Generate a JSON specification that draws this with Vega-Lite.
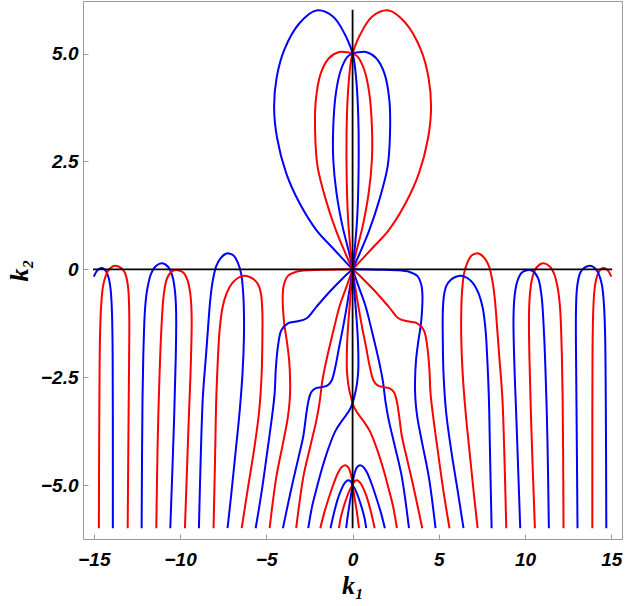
{
"$schema": "https://vega.github.io/schema/vega-lite/v6.json",
"width": 539, "height": 538,
"autosize": {"type": "none"},
"padding": {"left": 83, "top": 1, "right": 3, "bottom": 67},
"config": {"view": {"stroke": "#999999", "strokeWidth": 1}},
"data": {"values": [
{"s":"U1","c":"b","i":0,"x":0,"y":0},{"s":"U1","c":"b","i":2,"x":-1.14,"y":0.49},{"s":"U1","c":"b","i":3,"x":-2.1,"y":0.91},{"s":"U1","c":"b","i":4,"x":-3.07,"y":1.53},{"s":"U1","c":"b","i":5,"x":-3.85,"y":2.23},{"s":"U1","c":"b","i":6,"x":-4.38,"y":3.05},{"s":"U1","c":"b","i":7,"x":-4.55,"y":3.75},{"s":"U1","c":"b","i":8,"x":-4.4,"y":4.45},{"s":"U1","c":"b","i":9,"x":-3.95,"y":5.1},{"s":"U1","c":"b","i":10,"x":-3.07,"y":5.71},{"s":"U1","c":"b","i":11,"x":-2.1,"y":6.0},{"s":"U1","c":"b","i":12,"x":-1.14,"y":5.86},{"s":"U1","c":"b","i":13,"x":-0.45,"y":5.45},{"s":"U1","c":"b","i":14,"x":-0.12,"y":5.15},{"s":"U1","c":"b","i":15,"x":0,"y":5},
{"s":"U1m","c":"r","i":0,"x":0,"y":0},{"s":"U1m","c":"r","i":2,"x":1.14,"y":0.49},{"s":"U1m","c":"r","i":3,"x":2.1,"y":0.91},{"s":"U1m","c":"r","i":4,"x":3.07,"y":1.53},{"s":"U1m","c":"r","i":5,"x":3.85,"y":2.23},{"s":"U1m","c":"r","i":6,"x":4.38,"y":3.05},{"s":"U1m","c":"r","i":7,"x":4.55,"y":3.75},{"s":"U1m","c":"r","i":8,"x":4.4,"y":4.45},{"s":"U1m","c":"r","i":9,"x":3.95,"y":5.1},{"s":"U1m","c":"r","i":10,"x":3.07,"y":5.71},{"s":"U1m","c":"r","i":11,"x":2.1,"y":6.0},{"s":"U1m","c":"r","i":12,"x":1.14,"y":5.86},{"s":"U1m","c":"r","i":13,"x":0.45,"y":5.45},{"s":"U1m","c":"r","i":14,"x":0.12,"y":5.15},{"s":"U1m","c":"r","i":15,"x":0,"y":5},
{"s":"U2","c":"r","i":0,"x":0,"y":0},{"s":"U2","c":"r","i":1,"x":-0.39,"y":0.35},{"s":"U2","c":"r","i":2,"x":-0.97,"y":0.91},{"s":"U2","c":"r","i":3,"x":-1.55,"y":1.61},{"s":"U2","c":"r","i":4,"x":-2.03,"y":2.38},{"s":"U2","c":"r","i":5,"x":-2.17,"y":3.15},{"s":"U2","c":"r","i":6,"x":-2.13,"y":3.93},{"s":"U2","c":"r","i":7,"x":-1.84,"y":4.55},{"s":"U2","c":"r","i":8,"x":-1.36,"y":4.9},{"s":"U2","c":"r","i":9,"x":-0.78,"y":5.04},{"s":"U2","c":"r","i":10,"x":-0.29,"y":5.03},{"s":"U2","c":"r","i":11,"x":0,"y":5},
{"s":"U2m","c":"b","i":0,"x":0,"y":0},{"s":"U2m","c":"b","i":1,"x":0.39,"y":0.35},{"s":"U2m","c":"b","i":2,"x":0.97,"y":0.91},{"s":"U2m","c":"b","i":3,"x":1.55,"y":1.61},{"s":"U2m","c":"b","i":4,"x":2.03,"y":2.38},{"s":"U2m","c":"b","i":5,"x":2.17,"y":3.15},{"s":"U2m","c":"b","i":6,"x":2.13,"y":3.93},{"s":"U2m","c":"b","i":7,"x":1.84,"y":4.55},{"s":"U2m","c":"b","i":8,"x":1.36,"y":4.9},{"s":"U2m","c":"b","i":9,"x":0.78,"y":5.04},{"s":"U2m","c":"b","i":10,"x":0.29,"y":5.03},{"s":"U2m","c":"b","i":11,"x":0,"y":5},
{"s":"U3","c":"b","i":0,"x":0,"y":0},{"s":"U3","c":"b","i":1,"x":-0.19,"y":0.37},{"s":"U3","c":"b","i":2,"x":-0.58,"y":0.99},{"s":"U3","c":"b","i":3,"x":-0.93,"y":1.76},{"s":"U3","c":"b","i":4,"x":-1.12,"y":2.54},{"s":"U3","c":"b","i":5,"x":-1.12,"y":3.31},{"s":"U3","c":"b","i":6,"x":-0.97,"y":4.08},{"s":"U3","c":"b","i":7,"x":-0.68,"y":4.62},{"s":"U3","c":"b","i":8,"x":-0.29,"y":4.93},{"s":"U3","c":"b","i":9,"x":0,"y":5},
{"s":"U3m","c":"r","i":0,"x":0,"y":0},{"s":"U3m","c":"r","i":1,"x":0.19,"y":0.37},{"s":"U3m","c":"r","i":2,"x":0.58,"y":0.99},{"s":"U3m","c":"r","i":3,"x":0.93,"y":1.76},{"s":"U3m","c":"r","i":4,"x":1.12,"y":2.54},{"s":"U3m","c":"r","i":5,"x":1.12,"y":3.31},{"s":"U3m","c":"r","i":6,"x":0.97,"y":4.08},{"s":"U3m","c":"r","i":7,"x":0.68,"y":4.62},{"s":"U3m","c":"r","i":8,"x":0.29,"y":4.93},{"s":"U3m","c":"r","i":9,"x":0,"y":5},
{"s":"U4","c":"r","i":0,"x":0,"y":0},{"s":"U4","c":"r","i":1,"x":-0.1,"y":0.37},{"s":"U4","c":"r","i":2,"x":-0.27,"y":1.22},{"s":"U4","c":"r","i":3,"x":-0.35,"y":2.38},{"s":"U4","c":"r","i":4,"x":-0.33,"y":3.54},{"s":"U4","c":"r","i":5,"x":-0.23,"y":4.31},{"s":"U4","c":"r","i":6,"x":-0.08,"y":4.86},{"s":"U4","c":"r","i":7,"x":0,"y":5},
{"s":"U4m","c":"b","i":0,"x":0,"y":0},{"s":"U4m","c":"b","i":1,"x":0.1,"y":0.37},{"s":"U4m","c":"b","i":2,"x":0.27,"y":1.22},{"s":"U4m","c":"b","i":3,"x":0.35,"y":2.38},{"s":"U4m","c":"b","i":4,"x":0.33,"y":3.54},{"s":"U4m","c":"b","i":5,"x":0.23,"y":4.31},{"s":"U4m","c":"b","i":6,"x":0.08,"y":4.86},{"s":"U4m","c":"b","i":7,"x":0,"y":5},
{"s":"L1","c":"r","i":0,"x":0,"y":0},{"s":"L1","c":"r","i":1,"x":-1.5,"y":-0.01},{"s":"L1","c":"r","i":2,"x":-2.5,"y":-0.02},{"s":"L1","c":"r","i":3,"x":-3.3,"y":-0.06},{"s":"L1","c":"r","i":4,"x":-3.75,"y":-0.15},{"s":"L1","c":"r","i":5,"x":-3.98,"y":-0.35},{"s":"L1","c":"r","i":6,"x":-4.05,"y":-0.6},{"s":"L1","c":"r","i":7,"x":-4.02,"y":-1.0},{"s":"L1","c":"r","i":8,"x":-3.95,"y":-1.3},{"s":"L1","c":"r","i":9,"x":-3.8,"y":-1.7},{"s":"L1","c":"r","i":10,"x":-3.68,"y":-2.1},{"s":"L1","c":"r","i":11,"x":-3.62,"y":-2.6},{"s":"L1","c":"r","i":12,"x":-3.64,"y":-3.0},{"s":"L1","c":"r","i":13,"x":-3.75,"y":-3.42},{"s":"L1","c":"r","i":14,"x":-4.04,"y":-4.04},{"s":"L1","c":"r","i":15,"x":-4.42,"y":-4.81},{"s":"L1","c":"r","i":16,"x":-4.81,"y":-6.0},
{"s":"L1m","c":"b","i":0,"x":0,"y":0},{"s":"L1m","c":"b","i":1,"x":1.5,"y":-0.01},{"s":"L1m","c":"b","i":2,"x":2.5,"y":-0.02},{"s":"L1m","c":"b","i":3,"x":3.3,"y":-0.06},{"s":"L1m","c":"b","i":4,"x":3.75,"y":-0.15},{"s":"L1m","c":"b","i":5,"x":3.98,"y":-0.35},{"s":"L1m","c":"b","i":6,"x":4.05,"y":-0.6},{"s":"L1m","c":"b","i":7,"x":4.02,"y":-1.0},{"s":"L1m","c":"b","i":8,"x":3.95,"y":-1.3},{"s":"L1m","c":"b","i":9,"x":3.8,"y":-1.7},{"s":"L1m","c":"b","i":10,"x":3.68,"y":-2.1},{"s":"L1m","c":"b","i":11,"x":3.62,"y":-2.6},{"s":"L1m","c":"b","i":12,"x":3.64,"y":-3.0},{"s":"L1m","c":"b","i":13,"x":3.75,"y":-3.42},{"s":"L1m","c":"b","i":14,"x":4.04,"y":-4.04},{"s":"L1m","c":"b","i":15,"x":4.42,"y":-4.81},{"s":"L1m","c":"b","i":16,"x":4.81,"y":-6.0},
{"s":"L2","c":"b","i":0,"x":0,"y":0},{"s":"L2","c":"b","i":1,"x":-0.58,"y":-0.21},{"s":"L2","c":"b","i":2,"x":-1.33,"y":-0.52},{"s":"L2","c":"b","i":3,"x":-2.1,"y":-0.87},{"s":"L2","c":"b","i":4,"x":-2.68,"y":-1.14},{"s":"L2","c":"b","i":5,"x":-3.26,"y":-1.21},{"s":"L2","c":"b","i":6,"x":-3.75,"y":-1.25},{"s":"L2","c":"b","i":7,"x":-4.13,"y":-1.41},{"s":"L2","c":"b","i":8,"x":-4.33,"y":-1.79},{"s":"L2","c":"b","i":9,"x":-4.45,"y":-2.3},{"s":"L2","c":"b","i":10,"x":-4.52,"y":-2.88},{"s":"L2","c":"b","i":11,"x":-4.7,"y":-3.5},{"s":"L2","c":"b","i":12,"x":-4.91,"y":-4.12},{"s":"L2","c":"b","i":13,"x":-5.29,"y":-5.2},{"s":"L2","c":"b","i":14,"x":-5.62,"y":-6.0},
{"s":"L2m","c":"r","i":0,"x":0,"y":0},{"s":"L2m","c":"r","i":1,"x":0.58,"y":-0.21},{"s":"L2m","c":"r","i":2,"x":1.33,"y":-0.52},{"s":"L2m","c":"r","i":3,"x":2.1,"y":-0.87},{"s":"L2m","c":"r","i":4,"x":2.68,"y":-1.14},{"s":"L2m","c":"r","i":5,"x":3.26,"y":-1.21},{"s":"L2m","c":"r","i":6,"x":3.75,"y":-1.25},{"s":"L2m","c":"r","i":7,"x":4.13,"y":-1.41},{"s":"L2m","c":"r","i":8,"x":4.33,"y":-1.79},{"s":"L2m","c":"r","i":9,"x":4.45,"y":-2.3},{"s":"L2m","c":"r","i":10,"x":4.52,"y":-2.88},{"s":"L2m","c":"r","i":11,"x":4.7,"y":-3.5},{"s":"L2m","c":"r","i":12,"x":4.91,"y":-4.12},{"s":"L2m","c":"r","i":13,"x":5.29,"y":-5.2},{"s":"L2m","c":"r","i":14,"x":5.62,"y":-6.0},
{"s":"L3","c":"r","i":0,"x":0,"y":0},{"s":"L3","c":"r","i":1,"x":-0.35,"y":-0.4},{"s":"L3","c":"r","i":2,"x":-0.75,"y":-0.85},{"s":"L3","c":"r","i":3,"x":-1.1,"y":-1.4},{"s":"L3","c":"r","i":4,"x":-1.4,"y":-1.9},{"s":"L3","c":"r","i":5,"x":-1.62,"y":-2.3},{"s":"L3","c":"r","i":6,"x":-1.76,"y":-2.6},{"s":"L3","c":"r","i":7,"x":-1.84,"y":-2.85},{"s":"L3","c":"r","i":8,"x":-1.92,"y":-3.1},{"s":"L3","c":"r","i":9,"x":-2.1,"y":-3.5},{"s":"L3","c":"r","i":10,"x":-2.45,"y":-4.1},{"s":"L3","c":"r","i":11,"x":-2.85,"y":-4.8},{"s":"L3","c":"r","i":12,"x":-3.27,"y":-6.0},
{"s":"L3m","c":"b","i":0,"x":0,"y":0},{"s":"L3m","c":"b","i":1,"x":0.35,"y":-0.4},{"s":"L3m","c":"b","i":2,"x":0.75,"y":-0.85},{"s":"L3m","c":"b","i":3,"x":1.1,"y":-1.4},{"s":"L3m","c":"b","i":4,"x":1.4,"y":-1.9},{"s":"L3m","c":"b","i":5,"x":1.62,"y":-2.3},{"s":"L3m","c":"b","i":6,"x":1.76,"y":-2.6},{"s":"L3m","c":"b","i":7,"x":1.84,"y":-2.85},{"s":"L3m","c":"b","i":8,"x":1.92,"y":-3.1},{"s":"L3m","c":"b","i":9,"x":2.1,"y":-3.5},{"s":"L3m","c":"b","i":10,"x":2.45,"y":-4.1},{"s":"L3m","c":"b","i":11,"x":2.85,"y":-4.8},{"s":"L3m","c":"b","i":12,"x":3.27,"y":-6.0},
{"s":"L4","c":"b","i":0,"x":0,"y":0},{"s":"L4","c":"b","i":1,"x":-0.15,"y":-0.4},{"s":"L4","c":"b","i":2,"x":-0.37,"y":-0.94},{"s":"L4","c":"b","i":3,"x":-0.58,"y":-1.4},{"s":"L4","c":"b","i":4,"x":-0.78,"y":-1.8},{"s":"L4","c":"b","i":5,"x":-1.02,"y":-2.3},{"s":"L4","c":"b","i":6,"x":-1.22,"y":-2.58},{"s":"L4","c":"b","i":7,"x":-1.45,"y":-2.69},{"s":"L4","c":"b","i":8,"x":-1.8,"y":-2.73},{"s":"L4","c":"b","i":9,"x":-2.15,"y":-2.76},{"s":"L4","c":"b","i":10,"x":-2.4,"y":-2.85},{"s":"L4","c":"b","i":11,"x":-2.56,"y":-3.05},{"s":"L4","c":"b","i":12,"x":-2.7,"y":-3.4},{"s":"L4","c":"b","i":13,"x":-2.85,"y":-3.85},{"s":"L4","c":"b","i":14,"x":-3.1,"y":-4.3},{"s":"L4","c":"b","i":15,"x":-3.45,"y":-4.9},{"s":"L4","c":"b","i":16,"x":-3.75,"y":-5.45},{"s":"L4","c":"b","i":17,"x":-4.04,"y":-6.0},
{"s":"L4m","c":"r","i":0,"x":0,"y":0},{"s":"L4m","c":"r","i":1,"x":0.15,"y":-0.4},{"s":"L4m","c":"r","i":2,"x":0.37,"y":-0.94},{"s":"L4m","c":"r","i":3,"x":0.58,"y":-1.4},{"s":"L4m","c":"r","i":4,"x":0.78,"y":-1.8},{"s":"L4m","c":"r","i":5,"x":1.02,"y":-2.3},{"s":"L4m","c":"r","i":6,"x":1.22,"y":-2.58},{"s":"L4m","c":"r","i":7,"x":1.45,"y":-2.69},{"s":"L4m","c":"r","i":8,"x":1.8,"y":-2.73},{"s":"L4m","c":"r","i":9,"x":2.15,"y":-2.76},{"s":"L4m","c":"r","i":10,"x":2.4,"y":-2.85},{"s":"L4m","c":"r","i":11,"x":2.56,"y":-3.05},{"s":"L4m","c":"r","i":12,"x":2.7,"y":-3.4},{"s":"L4m","c":"r","i":13,"x":2.85,"y":-3.85},{"s":"L4m","c":"r","i":14,"x":3.1,"y":-4.3},{"s":"L4m","c":"r","i":15,"x":3.45,"y":-4.9},{"s":"L4m","c":"r","i":16,"x":3.75,"y":-5.45},{"s":"L4m","c":"r","i":17,"x":4.04,"y":-6.0},
{"s":"L5","c":"r","i":0,"x":0,"y":0},{"s":"L5","c":"r","i":1,"x":-0.08,"y":-0.4},{"s":"L5","c":"r","i":2,"x":-0.19,"y":-0.94},{"s":"L5","c":"r","i":3,"x":-0.29,"y":-1.5},{"s":"L5","c":"r","i":4,"x":-0.33,"y":-1.9},{"s":"L5","c":"r","i":5,"x":-0.33,"y":-2.34},{"s":"L5","c":"r","i":6,"x":-0.27,"y":-2.6},{"s":"L5","c":"r","i":7,"x":-0.19,"y":-2.8},{"s":"L5","c":"r","i":8,"x":-0.08,"y":-2.98},{"s":"L5","c":"r","i":9,"x":0,"y":-3.1},{"s":"L5","c":"r","i":10,"x":0.2,"y":-3.28},{"s":"L5","c":"r","i":11,"x":0.6,"y":-3.5},{"s":"L5","c":"r","i":12,"x":1.0,"y":-3.75},{"s":"L5","c":"r","i":13,"x":1.4,"y":-4.15},{"s":"L5","c":"r","i":14,"x":1.76,"y":-4.6},{"s":"L5","c":"r","i":15,"x":2.1,"y":-5.1},{"s":"L5","c":"r","i":16,"x":2.35,"y":-5.5},{"s":"L5","c":"r","i":17,"x":2.57,"y":-6.0},
{"s":"L5m","c":"b","i":0,"x":0,"y":0},{"s":"L5m","c":"b","i":1,"x":0.08,"y":-0.4},{"s":"L5m","c":"b","i":2,"x":0.19,"y":-0.94},{"s":"L5m","c":"b","i":3,"x":0.29,"y":-1.5},{"s":"L5m","c":"b","i":4,"x":0.33,"y":-1.9},{"s":"L5m","c":"b","i":5,"x":0.33,"y":-2.34},{"s":"L5m","c":"b","i":6,"x":0.27,"y":-2.6},{"s":"L5m","c":"b","i":7,"x":0.19,"y":-2.8},{"s":"L5m","c":"b","i":8,"x":0.08,"y":-2.98},{"s":"L5m","c":"b","i":9,"x":0,"y":-3.1},{"s":"L5m","c":"b","i":10,"x":-0.2,"y":-3.28},{"s":"L5m","c":"b","i":11,"x":-0.6,"y":-3.5},{"s":"L5m","c":"b","i":12,"x":-1.0,"y":-3.75},{"s":"L5m","c":"b","i":13,"x":-1.4,"y":-4.15},{"s":"L5m","c":"b","i":14,"x":-1.76,"y":-4.6},{"s":"L5m","c":"b","i":15,"x":-2.1,"y":-5.1},{"s":"L5m","c":"b","i":16,"x":-2.35,"y":-5.5},{"s":"L5m","c":"b","i":17,"x":-2.57,"y":-6.0},
{"s":"B1","c":"r","i":0,"x":0,"y":-5},{"s":"B1","c":"r","i":1,"x":-0.1,"y":-4.75},{"s":"B1","c":"r","i":2,"x":-0.25,"y":-4.59},{"s":"B1","c":"r","i":3,"x":-0.42,"y":-4.54},{"s":"B1","c":"r","i":4,"x":-0.62,"y":-4.58},{"s":"B1","c":"r","i":5,"x":-0.85,"y":-4.72},{"s":"B1","c":"r","i":6,"x":-1.1,"y":-4.97},{"s":"B1","c":"r","i":7,"x":-1.38,"y":-5.3},{"s":"B1","c":"r","i":8,"x":-1.65,"y":-5.65},{"s":"B1","c":"r","i":9,"x":-1.87,"y":-6.0},
{"s":"B1m","c":"b","i":0,"x":0,"y":-5},{"s":"B1m","c":"b","i":1,"x":0.1,"y":-4.75},{"s":"B1m","c":"b","i":2,"x":0.25,"y":-4.59},{"s":"B1m","c":"b","i":3,"x":0.42,"y":-4.54},{"s":"B1m","c":"b","i":4,"x":0.62,"y":-4.58},{"s":"B1m","c":"b","i":5,"x":0.85,"y":-4.72},{"s":"B1m","c":"b","i":6,"x":1.1,"y":-4.97},{"s":"B1m","c":"b","i":7,"x":1.38,"y":-5.3},{"s":"B1m","c":"b","i":8,"x":1.65,"y":-5.65},{"s":"B1m","c":"b","i":9,"x":1.87,"y":-6.0},
{"s":"B2","c":"b","i":0,"x":0,"y":-5},{"s":"B2","c":"b","i":1,"x":-0.12,"y":-4.91},{"s":"B2","c":"b","i":2,"x":-0.27,"y":-4.89},{"s":"B2","c":"b","i":3,"x":-0.45,"y":-4.95},{"s":"B2","c":"b","i":4,"x":-0.65,"y":-5.1},{"s":"B2","c":"b","i":5,"x":-0.88,"y":-5.35},{"s":"B2","c":"b","i":6,"x":-1.08,"y":-5.65},{"s":"B2","c":"b","i":7,"x":-1.28,"y":-6.0},
{"s":"B2m","c":"r","i":0,"x":0,"y":-5},{"s":"B2m","c":"r","i":1,"x":0.12,"y":-4.91},{"s":"B2m","c":"r","i":2,"x":0.27,"y":-4.89},{"s":"B2m","c":"r","i":3,"x":0.45,"y":-4.95},{"s":"B2m","c":"r","i":4,"x":0.65,"y":-5.1},{"s":"B2m","c":"r","i":5,"x":0.88,"y":-5.35},{"s":"B2m","c":"r","i":6,"x":1.08,"y":-5.65},{"s":"B2m","c":"r","i":7,"x":1.28,"y":-6.0},
{"s":"B3","c":"r","i":0,"x":0,"y":-5},{"s":"B3","c":"r","i":1,"x":-0.15,"y":-5.1},{"s":"B3","c":"r","i":2,"x":-0.35,"y":-5.3},{"s":"B3","c":"r","i":3,"x":-0.55,"y":-5.55},{"s":"B3","c":"r","i":4,"x":-0.7,"y":-5.78},{"s":"B3","c":"r","i":5,"x":-0.79,"y":-6.0},
{"s":"B3m","c":"b","i":0,"x":0,"y":-5},{"s":"B3m","c":"b","i":1,"x":0.15,"y":-5.1},{"s":"B3m","c":"b","i":2,"x":0.35,"y":-5.3},{"s":"B3m","c":"b","i":3,"x":0.55,"y":-5.55},{"s":"B3m","c":"b","i":4,"x":0.7,"y":-5.78},{"s":"B3m","c":"b","i":5,"x":0.79,"y":-6.0},
{"s":"B4","c":"b","i":0,"x":0,"y":-5},{"s":"B4","c":"b","i":1,"x":-0.1,"y":-5.25},{"s":"B4","c":"b","i":2,"x":-0.22,"y":-5.55},{"s":"B4","c":"b","i":3,"x":-0.31,"y":-5.8},{"s":"B4","c":"b","i":4,"x":-0.37,"y":-6.0},
{"s":"B4m","c":"r","i":0,"x":0,"y":-5},{"s":"B4m","c":"r","i":1,"x":0.1,"y":-5.25},{"s":"B4m","c":"r","i":2,"x":0.22,"y":-5.55},{"s":"B4m","c":"r","i":3,"x":0.31,"y":-5.8},{"s":"B4m","c":"r","i":4,"x":0.37,"y":-6.0},
{"s":"A1","c":"b","i":0,"x":-15,"y":-0.17},{"s":"A1","c":"b","i":1,"x":-14.85,"y":-0.05},{"s":"A1","c":"b","i":2,"x":-14.7,"y":0.01},{"s":"A1","c":"b","i":3,"x":-14.51,"y":0.03},{"s":"A1","c":"b","i":4,"x":-14.32,"y":-0.03},{"s":"A1","c":"b","i":5,"x":-14.14,"y":-0.2},{"s":"A1","c":"b","i":6,"x":-14.02,"y":-0.5},{"s":"A1","c":"b","i":7,"x":-13.95,"y":-1.0},{"s":"A1","c":"b","i":8,"x":-13.91,"y":-2.0},{"s":"A1","c":"b","i":9,"x":-13.9,"y":-4.0},{"s":"A1","c":"b","i":10,"x":-13.9,"y":-6.0},
{"s":"A1m","c":"r","i":0,"x":15,"y":-0.17},{"s":"A1m","c":"r","i":1,"x":14.85,"y":-0.05},{"s":"A1m","c":"r","i":2,"x":14.7,"y":0.01},{"s":"A1m","c":"r","i":3,"x":14.51,"y":0.03},{"s":"A1m","c":"r","i":4,"x":14.32,"y":-0.03},{"s":"A1m","c":"r","i":5,"x":14.14,"y":-0.2},{"s":"A1m","c":"r","i":6,"x":14.02,"y":-0.5},{"s":"A1m","c":"r","i":7,"x":13.95,"y":-1.0},{"s":"A1m","c":"r","i":8,"x":13.91,"y":-2.0},{"s":"A1m","c":"r","i":9,"x":13.9,"y":-4.0},{"s":"A1m","c":"r","i":10,"x":13.9,"y":-6.0},
{"s":"A2","c":"r","i":0,"x":-14.71,"y":-6.0},{"s":"A2","c":"r","i":1,"x":-14.68,"y":-3.0},{"s":"A2","c":"r","i":2,"x":-14.64,"y":-1.5},{"s":"A2","c":"r","i":3,"x":-14.57,"y":-0.8},{"s":"A2","c":"r","i":4,"x":-14.45,"y":-0.35},{"s":"A2","c":"r","i":5,"x":-14.2,"y":-0.05},{"s":"A2","c":"r","i":6,"x":-13.95,"y":0.06},{"s":"A2","c":"r","i":7,"x":-13.7,"y":0.08},{"s":"A2","c":"r","i":8,"x":-13.45,"y":0.04},{"s":"A2","c":"r","i":9,"x":-13.2,"y":-0.08},{"s":"A2","c":"r","i":10,"x":-13.02,"y":-0.4},{"s":"A2","c":"r","i":11,"x":-12.95,"y":-1.0},{"s":"A2","c":"r","i":12,"x":-12.96,"y":-2.2},{"s":"A2","c":"r","i":13,"x":-13.0,"y":-4.0},{"s":"A2","c":"r","i":14,"x":-13.04,"y":-6.0},
{"s":"A2m","c":"b","i":0,"x":14.71,"y":-6.0},{"s":"A2m","c":"b","i":1,"x":14.68,"y":-3.0},{"s":"A2m","c":"b","i":2,"x":14.64,"y":-1.5},{"s":"A2m","c":"b","i":3,"x":14.57,"y":-0.8},{"s":"A2m","c":"b","i":4,"x":14.45,"y":-0.35},{"s":"A2m","c":"b","i":5,"x":14.2,"y":-0.05},{"s":"A2m","c":"b","i":6,"x":13.95,"y":0.06},{"s":"A2m","c":"b","i":7,"x":13.7,"y":0.08},{"s":"A2m","c":"b","i":8,"x":13.45,"y":0.04},{"s":"A2m","c":"b","i":9,"x":13.2,"y":-0.08},{"s":"A2m","c":"b","i":10,"x":13.02,"y":-0.4},{"s":"A2m","c":"b","i":11,"x":12.95,"y":-1.0},{"s":"A2m","c":"b","i":12,"x":12.96,"y":-2.2},{"s":"A2m","c":"b","i":13,"x":13.0,"y":-4.0},{"s":"A2m","c":"b","i":14,"x":13.04,"y":-6.0},
{"s":"A3","c":"b","i":0,"x":-12.23,"y":-6.0},{"s":"A3","c":"b","i":1,"x":-12.18,"y":-3.0},{"s":"A3","c":"b","i":2,"x":-12.12,"y":-1.8},{"s":"A3","c":"b","i":3,"x":-12.03,"y":-0.9},{"s":"A3","c":"b","i":4,"x":-11.9,"y":-0.45},{"s":"A3","c":"b","i":5,"x":-11.68,"y":-0.1},{"s":"A3","c":"b","i":6,"x":-11.4,"y":0.08},{"s":"A3","c":"b","i":7,"x":-11.03,"y":0.14},{"s":"A3","c":"b","i":8,"x":-10.7,"y":0.06},{"s":"A3","c":"b","i":9,"x":-10.45,"y":-0.15},{"s":"A3","c":"b","i":10,"x":-10.3,"y":-0.5},{"s":"A3","c":"b","i":11,"x":-10.23,"y":-1.0},{"s":"A3","c":"b","i":12,"x":-10.25,"y":-2.0},{"s":"A3","c":"b","i":13,"x":-10.35,"y":-3.5},{"s":"A3","c":"b","i":14,"x":-10.57,"y":-6.0},
{"s":"A3m","c":"r","i":0,"x":12.23,"y":-6.0},{"s":"A3m","c":"r","i":1,"x":12.18,"y":-3.0},{"s":"A3m","c":"r","i":2,"x":12.12,"y":-1.8},{"s":"A3m","c":"r","i":3,"x":12.03,"y":-0.9},{"s":"A3m","c":"r","i":4,"x":11.9,"y":-0.45},{"s":"A3m","c":"r","i":5,"x":11.68,"y":-0.1},{"s":"A3m","c":"r","i":6,"x":11.4,"y":0.08},{"s":"A3m","c":"r","i":7,"x":11.03,"y":0.14},{"s":"A3m","c":"r","i":8,"x":10.7,"y":0.06},{"s":"A3m","c":"r","i":9,"x":10.45,"y":-0.15},{"s":"A3m","c":"r","i":10,"x":10.3,"y":-0.5},{"s":"A3m","c":"r","i":11,"x":10.23,"y":-1.0},{"s":"A3m","c":"r","i":12,"x":10.25,"y":-2.0},{"s":"A3m","c":"r","i":13,"x":10.35,"y":-3.5},{"s":"A3m","c":"r","i":14,"x":10.57,"y":-6.0},
{"s":"A4","c":"r","i":0,"x":-11.38,"y":-6.0},{"s":"A4","c":"r","i":1,"x":-11.3,"y":-4.0},{"s":"A4","c":"r","i":2,"x":-11.22,"y":-2.8},{"s":"A4","c":"r","i":3,"x":-11.1,"y":-1.5},{"s":"A4","c":"r","i":4,"x":-10.95,"y":-0.6},{"s":"A4","c":"r","i":5,"x":-10.75,"y":-0.2},{"s":"A4","c":"r","i":6,"x":-10.45,"y":-0.04},{"s":"A4","c":"r","i":7,"x":-10.12,"y":-0.02},{"s":"A4","c":"r","i":8,"x":-9.8,"y":-0.08},{"s":"A4","c":"r","i":9,"x":-9.55,"y":-0.28},{"s":"A4","c":"r","i":10,"x":-9.4,"y":-0.6},{"s":"A4","c":"r","i":11,"x":-9.33,"y":-1.1},{"s":"A4","c":"r","i":12,"x":-9.38,"y":-2.2},{"s":"A4","c":"r","i":13,"x":-9.5,"y":-3.5},{"s":"A4","c":"r","i":14,"x":-9.72,"y":-6.0},
{"s":"A4m","c":"b","i":0,"x":11.38,"y":-6.0},{"s":"A4m","c":"b","i":1,"x":11.3,"y":-4.0},{"s":"A4m","c":"b","i":2,"x":11.22,"y":-2.8},{"s":"A4m","c":"b","i":3,"x":11.1,"y":-1.5},{"s":"A4m","c":"b","i":4,"x":10.95,"y":-0.6},{"s":"A4m","c":"b","i":5,"x":10.75,"y":-0.2},{"s":"A4m","c":"b","i":6,"x":10.45,"y":-0.04},{"s":"A4m","c":"b","i":7,"x":10.12,"y":-0.02},{"s":"A4m","c":"b","i":8,"x":9.8,"y":-0.08},{"s":"A4m","c":"b","i":9,"x":9.55,"y":-0.28},{"s":"A4m","c":"b","i":10,"x":9.4,"y":-0.6},{"s":"A4m","c":"b","i":11,"x":9.33,"y":-1.1},{"s":"A4m","c":"b","i":12,"x":9.38,"y":-2.2},{"s":"A4m","c":"b","i":13,"x":9.5,"y":-3.5},{"s":"A4m","c":"b","i":14,"x":9.72,"y":-6.0},
{"s":"A5","c":"b","i":0,"x":-8.91,"y":-6.0},{"s":"A5","c":"b","i":1,"x":-8.8,"y":-4.3},{"s":"A5","c":"b","i":2,"x":-8.68,"y":-2.95},{"s":"A5","c":"b","i":3,"x":-8.5,"y":-2.0},{"s":"A5","c":"b","i":4,"x":-8.39,"y":-1.41},{"s":"A5","c":"b","i":5,"x":-8.25,"y":-0.7},{"s":"A5","c":"b","i":6,"x":-8.1,"y":-0.25},{"s":"A5","c":"b","i":7,"x":-7.9,"y":0.08},{"s":"A5","c":"b","i":8,"x":-7.65,"y":0.26},{"s":"A5","c":"b","i":9,"x":-7.4,"y":0.35},{"s":"A5","c":"b","i":10,"x":-7.17,"y":0.37},{"s":"A5","c":"b","i":11,"x":-6.9,"y":0.32},{"s":"A5","c":"b","i":12,"x":-6.65,"y":0.15},{"s":"A5","c":"b","i":13,"x":-6.46,"y":-0.1},{"s":"A5","c":"b","i":14,"x":-6.35,"y":-0.5},{"s":"A5","c":"b","i":15,"x":-6.3,"y":-1.0},{"s":"A5","c":"b","i":16,"x":-6.3,"y":-1.6},{"s":"A5","c":"b","i":17,"x":-6.38,"y":-2.4},{"s":"A5","c":"b","i":18,"x":-6.55,"y":-3.3},{"s":"A5","c":"b","i":19,"x":-6.8,"y":-4.3},{"s":"A5","c":"b","i":20,"x":-7.03,"y":-5.2},{"s":"A5","c":"b","i":21,"x":-7.25,"y":-6.0},
{"s":"A5m","c":"r","i":0,"x":8.91,"y":-6.0},{"s":"A5m","c":"r","i":1,"x":8.8,"y":-4.3},{"s":"A5m","c":"r","i":2,"x":8.68,"y":-2.95},{"s":"A5m","c":"r","i":3,"x":8.5,"y":-2.0},{"s":"A5m","c":"r","i":4,"x":8.39,"y":-1.41},{"s":"A5m","c":"r","i":5,"x":8.25,"y":-0.7},{"s":"A5m","c":"r","i":6,"x":8.1,"y":-0.25},{"s":"A5m","c":"r","i":7,"x":7.9,"y":0.08},{"s":"A5m","c":"r","i":8,"x":7.65,"y":0.26},{"s":"A5m","c":"r","i":9,"x":7.4,"y":0.35},{"s":"A5m","c":"r","i":10,"x":7.17,"y":0.37},{"s":"A5m","c":"r","i":11,"x":6.9,"y":0.32},{"s":"A5m","c":"r","i":12,"x":6.65,"y":0.15},{"s":"A5m","c":"r","i":13,"x":6.46,"y":-0.1},{"s":"A5m","c":"r","i":14,"x":6.35,"y":-0.5},{"s":"A5m","c":"r","i":15,"x":6.3,"y":-1.0},{"s":"A5m","c":"r","i":16,"x":6.3,"y":-1.6},{"s":"A5m","c":"r","i":17,"x":6.38,"y":-2.4},{"s":"A5m","c":"r","i":18,"x":6.55,"y":-3.3},{"s":"A5m","c":"r","i":19,"x":6.8,"y":-4.3},{"s":"A5m","c":"r","i":20,"x":7.03,"y":-5.2},{"s":"A5m","c":"r","i":21,"x":7.25,"y":-6.0},
{"s":"A6","c":"r","i":0,"x":-8.06,"y":-6.0},{"s":"A6","c":"r","i":1,"x":-7.97,"y":-4.3},{"s":"A6","c":"r","i":2,"x":-7.9,"y":-2.95},{"s":"A6","c":"r","i":3,"x":-7.8,"y":-2.0},{"s":"A6","c":"r","i":4,"x":-7.71,"y":-1.41},{"s":"A6","c":"r","i":5,"x":-7.55,"y":-0.9},{"s":"A6","c":"r","i":6,"x":-7.3,"y":-0.55},{"s":"A6","c":"r","i":7,"x":-7.0,"y":-0.33},{"s":"A6","c":"r","i":8,"x":-6.65,"y":-0.2},{"s":"A6","c":"r","i":9,"x":-6.3,"y":-0.15},{"s":"A6","c":"r","i":10,"x":-6.0,"y":-0.17},{"s":"A6","c":"r","i":11,"x":-5.7,"y":-0.24},{"s":"A6","c":"r","i":12,"x":-5.45,"y":-0.37},{"s":"A6","c":"r","i":13,"x":-5.3,"y":-0.6},{"s":"A6","c":"r","i":14,"x":-5.23,"y":-1.0},{"s":"A6","c":"r","i":15,"x":-5.23,"y":-1.6},{"s":"A6","c":"r","i":16,"x":-5.27,"y":-2.4},{"s":"A6","c":"r","i":17,"x":-5.42,"y":-3.3},{"s":"A6","c":"r","i":18,"x":-5.72,"y":-4.2},{"s":"A6","c":"r","i":19,"x":-6.08,"y":-5.1},{"s":"A6","c":"r","i":20,"x":-6.43,"y":-6.0},
{"s":"A6m","c":"b","i":0,"x":8.06,"y":-6.0},{"s":"A6m","c":"b","i":1,"x":7.97,"y":-4.3},{"s":"A6m","c":"b","i":2,"x":7.9,"y":-2.95},{"s":"A6m","c":"b","i":3,"x":7.8,"y":-2.0},{"s":"A6m","c":"b","i":4,"x":7.71,"y":-1.41},{"s":"A6m","c":"b","i":5,"x":7.55,"y":-0.9},{"s":"A6m","c":"b","i":6,"x":7.3,"y":-0.55},{"s":"A6m","c":"b","i":7,"x":7.0,"y":-0.33},{"s":"A6m","c":"b","i":8,"x":6.65,"y":-0.2},{"s":"A6m","c":"b","i":9,"x":6.3,"y":-0.15},{"s":"A6m","c":"b","i":10,"x":6.0,"y":-0.17},{"s":"A6m","c":"b","i":11,"x":5.7,"y":-0.24},{"s":"A6m","c":"b","i":12,"x":5.45,"y":-0.37},{"s":"A6m","c":"b","i":13,"x":5.3,"y":-0.6},{"s":"A6m","c":"b","i":14,"x":5.23,"y":-1.0},{"s":"A6m","c":"b","i":15,"x":5.23,"y":-1.6},{"s":"A6m","c":"b","i":16,"x":5.27,"y":-2.4},{"s":"A6m","c":"b","i":17,"x":5.42,"y":-3.3},{"s":"A6m","c":"b","i":18,"x":5.72,"y":-4.2},{"s":"A6m","c":"b","i":19,"x":6.08,"y":-5.1},{"s":"A6m","c":"b","i":20,"x":6.43,"y":-6.0},
{"s":"K1","c":"k","i":0,"x":-15.05,"y":0},{"s":"K1","c":"k","i":1,"x":15.05,"y":0},
{"s":"K2","c":"k","i":0,"x":0,"y":-6.0},{"s":"K2","c":"k","i":1,"x":0,"y":6.02}
]},
"encoding": {
  "x": {"field": "x", "type": "quantitative",
        "scale": {"domain": [-15.63, 15.62], "nice": false, "zero": false},
        "axis": {"values": [-15, -10, -5, 0, 5, 10, 15], "format": "d", "domain": false, "grid": false,
                 "tickSize": -5, "tickColor": "#999999", "tickWidth": 1, "labelFlush": false,
                 "labelFont": "Liberation Sans", "labelFontSize": 19, "labelFontWeight": "bold", "labelFontStyle": "italic",
                 "labelColor": "#000000", "labelPadding": 16,
                 "title": "k₁", "titleFont": "Liberation Serif", "titleFontSize": 26, "titleFontWeight": "bold",
                 "titleFontStyle": "italic", "titleColor": "#000000", "titlePadding": 3}},
  "y": {"field": "y", "type": "quantitative",
        "scale": {"domain": [-6.25, 6.22], "nice": false, "zero": false},
        "axis": {"values": [-5, -2.5, 0, 2.5, 5], "labelExpr": "datum.value === 0 ? '0' : format(datum.value, '.1f')",
                 "domain": false, "grid": false, "tickSize": -5, "tickColor": "#999999", "tickWidth": 1, "labelFlush": false,
                 "labelFont": "Liberation Sans", "labelFontSize": 19, "labelFontWeight": "bold", "labelFontStyle": "italic",
                 "labelColor": "#000000", "labelPadding": 10,
                 "title": "k₂", "titleFont": "Liberation Serif", "titleFontSize": 26, "titleFontWeight": "bold",
                 "titleFontStyle": "italic", "titleColor": "#000000", "titlePadding": 8}},
  "color": {"field": "c", "type": "nominal", "scale": {"domain": ["b", "r", "k"], "range": ["#0000ff", "#ff0000", "#000000"]}, "legend": null},
  "detail": {"field": "s", "type": "nominal"},
  "order": {"field": "i", "type": "quantitative"}
},
"layer": [
  {"transform": [{"filter": "datum.c !== 'k'"}], "mark": {"type": "line", "strokeWidth": 2, "interpolate": "catmull-rom"}},
  {"transform": [{"filter": "datum.c === 'k'"}], "mark": {"type": "line", "strokeWidth": 1.8}}
]
}
